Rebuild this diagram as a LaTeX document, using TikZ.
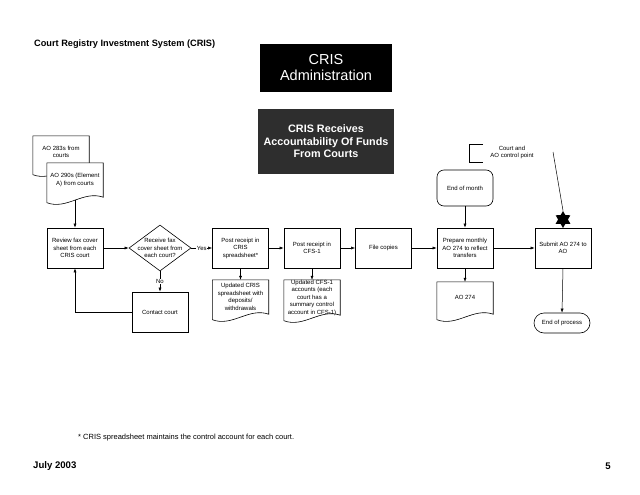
\documentclass[tikz,border=0pt]{standalone}
\usepackage{fontspec}
\setmainfont{Liberation Sans}
\usetikzlibrary{arrows.meta,shapes.geometric,calc}
\newcommand\docout[2][none]{\draw[fill=#1,line width=0.6pt] (#2.north west) -- (#2.north east) -- ($(#2.south east)+(0,-3)$) .. controls ($(#2.south east)+(-20,-10)$) and ($(#2.south west)+(20,10)$) .. ($(#2.south west)+(0,2.5)$) -- cycle;}
\begin{document}
\begin{tikzpicture}[x=1pt,y=-1pt,
  every node/.style={font=\fontsize{6}{7.5}\selectfont,align=center,inner sep=1pt},
  proc/.style={draw,line width=0.6pt,minimum width=56pt,minimum height=40pt},
  term/.style={draw,line width=0.6pt,rounded corners=7pt,minimum width=56pt,minimum height=36pt},
  docnode/.style={minimum width=56pt,inner sep=0pt},
  arr/.style={line width=0.5pt,-{Latex[length=4pt,width=3pt]}},
  ln/.style={line width=0.5pt},
  lbl/.style={fill=white,inner sep=0.5pt}
]
\useasboundingbox (0,0) rectangle (640,495);
\fill[white] (0,0) rectangle (640,495);

% headings
\node[anchor=west,font=\bfseries\fontsize{9.2}{11}\selectfont] (title) at (33,44) {Court Registry Investment System (CRIS)};
\node[fill=black,text=white,minimum width=132pt,minimum height=48pt,font=\fontsize{14.5}{16}\selectfont] (admin) at (326,68) {CRIS\\Administration};
\node[fill=black!82,text=white,minimum width=136pt,minimum height=65pt,font=\bfseries\fontsize{10.8}{12.5}\selectfont] (recv) at (326,141.5) {CRIS Receives\\Accountability Of Funds\\From Courts};

% input documents
\node[docnode,minimum height=36pt] (d1) at (61,154) {};
\docout{d1}
\node at ($(d1)+(0,-2)$) {AO 283s from\\courts};
\node[docnode,minimum height=37pt] (d2) at (75,181.5) {};
\docout[white]{d2}
\node at ($(d2)+(0,-1.5)$) {AO 290s (Element\\A) from courts};

% main row
\node[proc] (review) at (75,248) {Review fax cover\\sheet from each\\CRIS court};
\node[diamond,draw,line width=0.6pt,minimum width=62pt,minimum height=46pt,inner sep=0pt] (dec) at (160,248) {};
\node at (dec) {Receive fax\\cover sheet from\\each court?};
\node[proc] (contact) at (160,312) {Contact court};
\node[proc] (postcris) at (240.5,248) {Post receipt in\\CRIS\\spreadsheet*};
\node[proc] (postcfs) at (312,248) {Post receipt in\\CFS-1};
\node[proc] (files) at (383.5,248) {File copies};
\node[proc] (prep) at (465,248) {Prepare monthly\\AO 274 to reflect\\transfers};
\node[proc] (submit) at (563,248) {Submit AO 274 to\\AO};
\node[term] (eom) at (465,188) {End of month};
\node[draw,line width=0.6pt,rounded corners=10pt,minimum width=56pt,minimum height=20pt] (eop) at (562,323) {End of process};

% output documents
\node[docnode,minimum height=37pt] (d3) at (240.5,298.5) {};
\docout{d3}
\node at ($(d3)+(0,-1.5)$) {Updated CRIS\\spreadsheet with\\deposits/\\withdrawals};
\node[docnode,minimum height=38pt] (d4) at (312,299) {};
\docout{d4}
\node at ($(d4)+(0,-1.5)$) {Updated CFS-1\\accounts (each\\court has a\\summary control\\account in CFS-1)};
\node[docnode,minimum height=35pt] (d5) at (465,299.5) {};
\docout{d5}
\node at ($(d5)+(0,-2)$) {AO 274};

% control point legend
\coordinate (b1) at (483,144);
\coordinate (b2) at (469,144);
\coordinate (b3) at (469,162);
\coordinate (b4) at (483,162);
\draw[ln] (b1) -- (b2) -- (b3) -- (b4);
\node (cp) at (512,152.5) {Court and\\AO control point};
\node[star,star points=6,star point ratio=1.73,fill=black,inner sep=0pt,minimum size=17pt] (star) at (563,219.5) {};
\coordinate (cpl) at (553,152);
\draw[ln] (cpl) -- (star.north);

% connectors
\draw[arr] (d2.south) -- (review.north);
\draw[arr] (review.east) -- (dec.west);
\draw[arr] (dec.east) -- node[lbl]{Yes} (postcris.west);
\draw[arr] (dec.south) -- node[lbl]{No} (contact.north);
\draw[arr] (contact.west) -| (review.south);
\draw[arr] (postcris.south) -- (d3.north);
\draw[arr] (postcris.east) -- (postcfs.west);
\draw[arr] (postcfs.south) -- (d4.north);
\draw[arr] (postcfs.east) -- (files.west);
\draw[arr] (files.east) -- (prep.west);
\draw[arr] (eom.south) -- (prep.north);
\draw[arr] (prep.south) -- (d5.north);
\draw[arr] (prep.east) -- (submit.west);
\draw[arr] (submit.south) -- (eop.north);

% footer
\node[anchor=west,font=\fontsize{7.5}{9}\selectfont] (foot) at (77,438) {* CRIS spreadsheet maintains the control account for each court.};
\node[anchor=west,font=\bfseries\fontsize{9.6}{11}\selectfont] (date) at (32,466) {July 2003};
\node[anchor=east,font=\bfseries\fontsize{9.6}{11}\selectfont] (page) at (612,466) {5};
\end{tikzpicture}
\end{document}
